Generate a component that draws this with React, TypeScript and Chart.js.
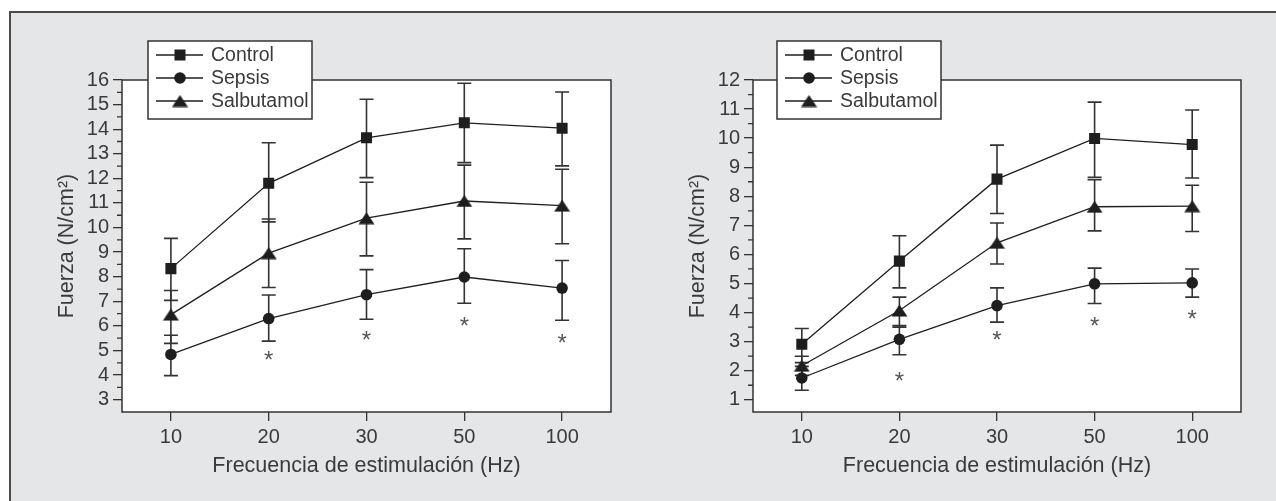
import React, { useEffect, useRef } from 'react';
import { Chart, registerables } from 'chart.js';

Chart.register(...registerables);

const FONT = "'Liberation Sans', Arial, sans-serif";
const TEXT = '#3a3a3a';
const INK = '#1e1e1e';

const categories = ['10', '20', '30', '50', '100'];
const seriesNames = ['Control', 'Sepsis', 'Salbutamol'];
const xTitle = 'Frecuencia de estimulación (Hz)';
const yTitle = 'Fuerza (N/cm²)';

// Left panel
const yTicksA = [3, 4, 5, 6, 7, 8, 9, 10, 11, 12, 13, 14, 15, 16];
const controlA = [8.33, 11.8, 13.65, 14.26, 14.04];
const controlAHigh = [9.56, 13.45, 15.22, 15.87, 15.51];
const controlALow = [7.04, 10.23, 12.03, 12.64, 12.51];
const sepsisA = [4.84, 6.3, 7.27, 7.99, 7.54];
const sepsisAHigh = [5.62, 7.26, 8.29, 9.14, 8.66];
const sepsisALow = [3.98, 5.38, 6.27, 6.92, 6.23];
const salbA = [6.46, 8.96, 10.38, 11.08, 10.89];
const salbAHigh = [7.44, 10.35, 11.84, 12.54, 12.37];
const salbALow = [5.29, 7.56, 8.85, 9.54, 9.34];
const starsA = [null, 4.84, 5.69, 6.25, 5.56];

// Right panel
const yTicksB = [1, 2, 3, 4, 5, 6, 7, 8, 9, 10, 11, 12];
const controlB = [2.91, 5.77, 8.59, 9.99, 9.78];
const controlBHigh = [3.45, 6.64, 9.76, 11.24, 10.97];
const controlBLow = [2.28, 4.85, 7.41, 8.65, 8.63];
const sepsisB = [1.75, 3.08, 4.24, 4.99, 5.02];
const sepsisBHigh = [2.15, 3.55, 4.85, 5.53, 5.5];
const sepsisBLow = [1.33, 2.55, 3.67, 4.31, 4.53];
const salbB = [2.17, 4.07, 6.4, 7.64, 7.66];
const salbBHigh = [2.5, 4.53, 7.08, 8.57, 8.38];
const salbBLow = [1.84, 3.5, 5.67, 6.81, 6.79];
const starsB = [null, 1.86, 3.26, 3.75, 3.98];

function makeTriangle(): HTMLCanvasElement {
  const c = document.createElement('canvas');
  c.width = 17;
  c.height = 13;
  const g = c.getContext('2d')!;
  g.fillStyle = INK;
  g.beginPath();
  g.moveTo(0.5, 12.5);
  g.lineTo(8.5, 0.5);
  g.lineTo(16.5, 12.5);
  g.closePath();
  g.fill();
  return c;
}

function drawMarker(ctx: CanvasRenderingContext2D, style: any, x: number, y: number) {
  ctx.fillStyle = INK;
  if (style === 'rect') {
    ctx.fillRect(x - 5.5, y - 5.5, 11, 11);
  } else if (style === 'circle') {
    ctx.beginPath();
    ctx.arc(x, y, 5.8, 0, Math.PI * 2);
    ctx.fill();
  } else if (style && style.width) {
    ctx.drawImage(style, x - style.width / 2, y - style.height / 2);
  }
}

const panelPlugin = {
  id: 'panel',
  beforeDraw(chart: any) {
    const { ctx, chartArea: a } = chart;
    ctx.save();
    ctx.fillStyle = '#ffffff';
    ctx.fillRect(a.left, a.top, a.right - a.left, a.bottom - a.top);
    ctx.restore();
  },
  beforeDatasetsDraw(chart: any) {
    const { ctx } = chart;
    const ys = chart.scales.y;
    ctx.save();
    ctx.strokeStyle = '#333333';
    ctx.lineWidth = 1.6;
    chart.data.datasets.forEach((ds: any, i: number) => {
      const meta = chart.getDatasetMeta(i);
      meta.data.forEach((pt: any, j: number) => {
        const x = pt.x;
        const hi = ys.getPixelForValue(ds.errHigh[j]);
        const lo = ys.getPixelForValue(ds.errLow[j]);
        ctx.beginPath();
        ctx.moveTo(x, hi);
        ctx.lineTo(x, lo);
        ctx.moveTo(x - 7, hi);
        ctx.lineTo(x + 7, hi);
        ctx.moveTo(x - 7, lo);
        ctx.lineTo(x + 7, lo);
        ctx.stroke();
      });
    });
    ctx.restore();
  },
  afterDraw(chart: any, _args: any, opts: any) {
    const { ctx, chartArea: a } = chart;
    const ys = chart.scales.y;
    ctx.save();
    // plot box
    ctx.strokeStyle = '#333333';
    ctx.lineWidth = 1.5;
    ctx.strokeRect(a.left, a.top, a.right - a.left, a.bottom - a.top);
    // minor ticks
    ctx.lineWidth = 1.3;
    const tv = ys.ticks.map((t: any) => t.value);
    ctx.beginPath();
    for (let k = 0; k < tv.length - 1; k++) {
      const py = ys.getPixelForValue((tv[k] + tv[k + 1]) / 2);
      ctx.moveTo(a.left - 5, py);
      ctx.lineTo(a.left, py);
    }
    ctx.stroke();
    // significance stars
    const meta0 = chart.getDatasetMeta(0);
    ctx.fillStyle = '#555555';
    ctx.font = `24px ${FONT}`;
    ctx.textAlign = 'center';
    ctx.textBaseline = 'alphabetic';
    (opts.stars || []).forEach((v: any, j: number) => {
      if (v === null || v === undefined) return;
      const x = meta0.data[j].x;
      const y = ys.getPixelForValue(v);
      ctx.fillText('*', x, y + 0.585 * 24);
    });
    // legend
    const x0 = a.left + opts.legendDX;
    const y0 = 41;
    ctx.fillStyle = '#ffffff';
    ctx.fillRect(x0, y0, 164, 78);
    ctx.strokeStyle = '#333333';
    ctx.lineWidth = 1.5;
    ctx.strokeRect(x0, y0, 164, 78);
    chart.data.datasets.forEach((ds: any, i: number) => {
      const ry = 55 + i * 23;
      ctx.strokeStyle = INK;
      ctx.lineWidth = 1.3;
      ctx.beginPath();
      ctx.moveTo(x0 + 8, ry);
      ctx.lineTo(x0 + 55, ry);
      ctx.stroke();
      drawMarker(ctx, ds.pointStyle, x0 + 32, ry);
      ctx.fillStyle = TEXT;
      ctx.font = `19.5px ${FONT}`;
      ctx.textAlign = 'left';
      ctx.textBaseline = 'middle';
      ctx.fillText(ds.label, x0 + 63, ry + 1);
    });
    ctx.restore();
  },
};

function buildConfig(
  p: {
    control: number[]; controlHigh: number[]; controlLow: number[];
    sepsis: number[]; sepsisHigh: number[]; sepsisLow: number[];
    salb: number[]; salbHigh: number[]; salbLow: number[];
    stars: (number | null)[]; ticks: number[]; min: number; max: number;
    axisWidth: number; padRight: number; titlePad: number; legendDX: number;
  },
  tri: HTMLCanvasElement
): any {
  const common = {
    borderColor: INK,
    borderWidth: 1.3,
    backgroundColor: INK,
    pointBackgroundColor: INK,
    pointBorderWidth: 0,
    tension: 0,
    fill: false,
  };
  return {
    type: 'line',
    data: {
      labels: categories,
      datasets: [
        { ...common, label: seriesNames[0], data: p.control, errHigh: p.controlHigh, errLow: p.controlLow, pointStyle: 'rect', pointRadius: 7.8 },
        { ...common, label: seriesNames[1], data: p.sepsis, errHigh: p.sepsisHigh, errLow: p.sepsisLow, pointStyle: 'circle', pointRadius: 5.8 },
        { ...common, label: seriesNames[2], data: p.salb, errHigh: p.salbHigh, errLow: p.salbLow, pointStyle: tri, pointRadius: 8 },
      ],
    },
    options: {
      responsive: false,
      animation: false,
      devicePixelRatio: 1,
      events: [],
      layout: { padding: { top: 80, right: p.padRight, left: 0, bottom: 0 } },
      plugins: {
        legend: { display: false },
        tooltip: { enabled: false },
        panel: { stars: p.stars, legendDX: p.legendDX },
      },
      scales: {
        x: {
          type: 'category',
          offset: true,
          grid: { drawOnChartArea: false, drawTicks: true, tickLength: 9, color: '#333333', lineWidth: 1.3 },
          border: { display: false },
          ticks: { color: TEXT, font: { size: 20, family: FONT }, padding: 4, maxRotation: 0, autoSkip: false },
          title: { display: true, text: xTitle, color: TEXT, font: { size: 21.5, family: FONT }, padding: { top: 0, bottom: 22 } },
          afterFit: (s: any) => { s.height = 89; },
        },
        y: {
          type: 'linear',
          min: p.min,
          max: p.max,
          afterBuildTicks: (s: any) => { s.ticks = p.ticks.map((v) => ({ value: v })); },
          grid: { drawOnChartArea: false, drawTicks: true, tickLength: 9, color: '#333333', lineWidth: 1.3 },
          border: { display: false },
          ticks: { color: TEXT, font: { size: 20, family: FONT }, padding: 4, autoSkip: false, callback: (v: any) => String(v) },
          title: { display: true, text: yTitle, color: TEXT, font: { size: 21.5, family: FONT }, padding: { top: p.titlePad, bottom: 0 } },
          afterFit: (s: any) => { s.width = p.axisWidth; },
        },
      },
    },
    plugins: [panelPlugin],
  };
}

export default function App() {
  const leftRef = useRef<HTMLCanvasElement>(null);
  const rightRef = useRef<HTMLCanvasElement>(null);

  useEffect(() => {
    const tri = makeTriangle();
    const c1 = new Chart(leftRef.current!, buildConfig({
      control: controlA, controlHigh: controlAHigh, controlLow: controlALow,
      sepsis: sepsisA, sepsisHigh: sepsisAHigh, sepsisLow: sepsisALow,
      salb: salbA, salbHigh: salbAHigh, salbLow: salbALow,
      stars: starsA, ticks: yTicksA, min: 2.5, max: 16,
      axisWidth: 122, padRight: 27, titlePad: 54, legendDX: 26,
    }, tri));
    const c2 = new Chart(rightRef.current!, buildConfig({
      control: controlB, controlHigh: controlBHigh, controlLow: controlBLow,
      sepsis: sepsisB, sepsisHigh: sepsisBHigh, sepsisLow: sepsisBLow,
      salb: salbB, salbHigh: salbBHigh, salbLow: salbBLow,
      stars: starsB, ticks: yTicksB, min: 0.58, max: 12,
      axisWidth: 115, padRight: 35, titlePad: 47, legendDX: 24,
    }, tri));
    return () => {
      c1.destroy();
      c2.destroy();
    };
  }, []);

  return (
    <div style={{ position: 'fixed', left: 0, top: 0, width: 1276, height: 501, background: '#ffffff', overflow: 'hidden' }}>
      <div
        style={{
          position: 'absolute', left: 9, top: 11, right: 0, bottom: 0,
          background: '#e5e6e8', borderTop: '2px solid #4a4a4a', borderLeft: '2px solid #4a4a4a',
        }}
      />
      <canvas ref={leftRef} width={638} height={501} style={{ position: 'absolute', left: 0, top: 0, width: 638, height: 501 }} />
      <canvas ref={rightRef} width={638} height={501} style={{ position: 'absolute', left: 638, top: 0, width: 638, height: 501 }} />
    </div>
  );
}
